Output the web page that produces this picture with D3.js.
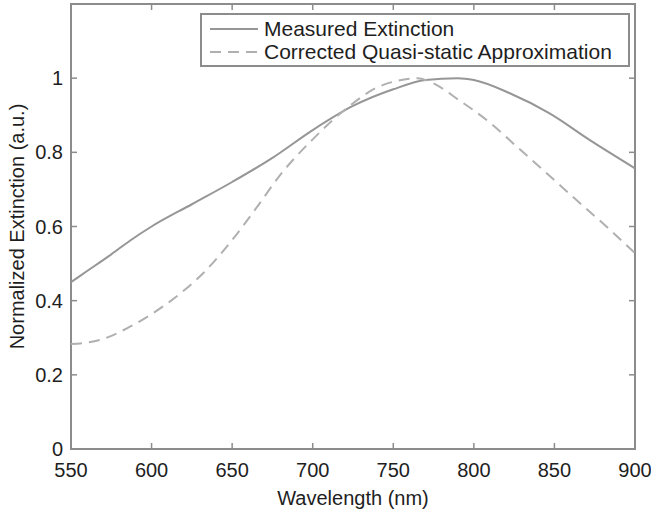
<!doctype html>
<html>
  <head>
    <meta charset="utf-8">
    <script src="https://cdn.jsdelivr.net/npm/d3@7/dist/d3.min.js"></script>
    <style>
      body { margin: 0; background: #fff; }
      text { font-family: "Liberation Sans", Arial, Helvetica, sans-serif; fill: #1e1e1e; }
    </style>
  </head>
  <body>
    <svg id="chart" width="651" height="513"></svg>
    <script>
      // wavelengths (nm) and values
      const measuredX = [550, 560, 575, 587, 600, 625, 650, 675, 700, 725, 750, 770, 790, 800, 822, 847, 872, 900];
      const measuredY = [0.45, 0.48, 0.525, 0.563, 0.60, 0.66, 0.72, 0.785, 0.86, 0.925, 0.97, 0.995, 1.0, 0.995, 0.96, 0.905, 0.833, 0.757];

      const quasiX = [550, 568, 585, 599, 618, 632, 649, 665, 680, 700, 720, 740, 755, 765, 773, 791, 810, 827, 843, 864, 884, 900];
      const quasiY = [0.283, 0.294, 0.326, 0.361, 0.42, 0.474, 0.558, 0.65, 0.74, 0.835, 0.915, 0.975, 0.995, 1.0, 0.99, 0.94, 0.88, 0.814, 0.752, 0.67, 0.593, 0.528];

      const xTicks = [550, 600, 650, 700, 750, 800, 850, 900];
      const yTicks = [0, 0.2, 0.4, 0.6, 0.8, 1];
      const legendLabels = ["Measured Extinction", "Corrected Quasi-static Approximation"];

      const svg = d3.select("#chart");
      const pL = 71, pR = 635, pT = 4, pB = 449;

      const x = d3.scaleLinear().domain([550, 900]).range([pL, pR]);
      const y = d3.scaleLinear().domain([0, 1.2]).range([pB, pT]);

      const axisColor = "#8c8c8c";

      // frame
      svg.append("rect")
        .attr("x", pL).attr("y", pT)
        .attr("width", pR - pL).attr("height", pB - pT)
        .style("fill", "none").style("stroke", axisColor).style("stroke-width", "2px");

      // inward ticks on all four sides
      const tickLen = 6;
      xTicks.forEach(t => {
        svg.append("line").attr("x1", x(t)).attr("x2", x(t)).attr("y1", pB).attr("y2", pB - tickLen)
          .style("stroke", axisColor).style("stroke-width", "1.5px");
        svg.append("line").attr("x1", x(t)).attr("x2", x(t)).attr("y1", pT).attr("y2", pT + tickLen)
          .style("stroke", axisColor).style("stroke-width", "1.5px");
        svg.append("text").attr("x", x(t)).attr("y", 477)
          .attr("text-anchor", "middle").style("font-size", "20px").text(t);
      });
      yTicks.forEach(t => {
        svg.append("line").attr("x1", pL).attr("x2", pL + tickLen).attr("y1", y(t)).attr("y2", y(t))
          .style("stroke", axisColor).style("stroke-width", "1.5px");
        svg.append("line").attr("x1", pR).attr("x2", pR - tickLen).attr("y1", y(t)).attr("y2", y(t))
          .style("stroke", axisColor).style("stroke-width", "1.5px");
        svg.append("text").attr("x", 63).attr("y", y(t) + 7)
          .attr("text-anchor", "end").style("font-size", "20px").text(t);
      });

      // axis titles
      svg.append("text").attr("x", (pL + pR) / 2).attr("y", 505)
        .attr("text-anchor", "middle").style("font-size", "20px").text("Wavelength (nm)");
      svg.append("text")
        .attr("transform", "translate(24," + ((pT + pB) / 2) + ") rotate(-90)")
        .attr("text-anchor", "middle").style("font-size", "20px").text("Normalized Extinction (a.u.)");

      const line = d3.line().x(d => x(d[0])).y(d => y(d[1])).curve(d3.curveMonotoneX);

      svg.append("path")
        .attr("d", line(d3.zip(measuredX, measuredY)))
        .style("fill", "none").style("stroke", "#969696").style("stroke-width", "2px");

      svg.append("path")
        .attr("d", line(d3.zip(quasiX, quasiY)))
        .style("fill", "none").style("stroke", "#b0b0b0").style("stroke-width", "2px")
        .style("stroke-dasharray", "11,7");

      // legend
      const lg = svg.append("g");
      lg.append("rect").attr("x", 201).attr("y", 14).attr("width", 428).attr("height", 52)
        .style("fill", "#fff").style("stroke", axisColor).style("stroke-width", "2px");
      lg.append("line").attr("x1", 210).attr("x2", 258).attr("y1", 29).attr("y2", 29)
        .style("stroke", "#969696").style("stroke-width", "2px");
      lg.append("line").attr("x1", 210).attr("x2", 258).attr("y1", 52).attr("y2", 52)
        .style("stroke", "#b0b0b0").style("stroke-width", "2px").style("stroke-dasharray", "11,7");
      legendLabels.forEach((s, i) => {
        lg.append("text").attr("x", 264).attr("y", 36 + i * 23)
          .style("font-size", "21px").text(s);
      });
    </script>
  </body>
</html>
